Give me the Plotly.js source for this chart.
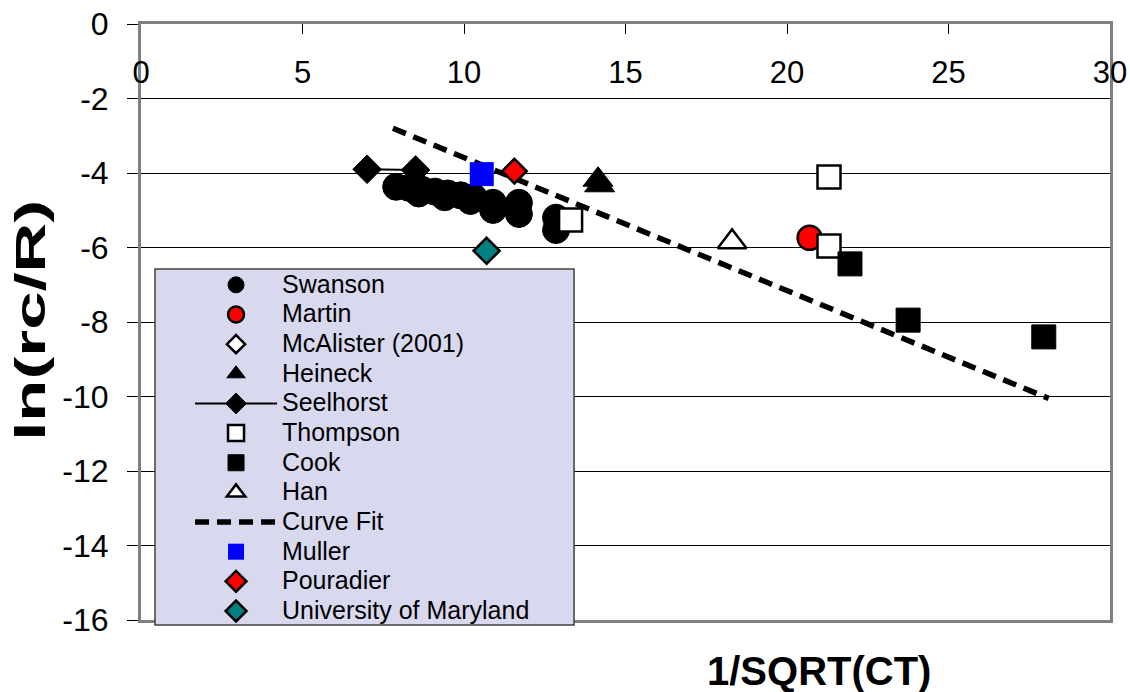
<!DOCTYPE html>
<html>
<head>
<meta charset="utf-8">
<script src="https://cdn.plot.ly/plotly-3.0.1.min.js"></script>
<style>
  html, body { margin: 0; padding: 0; background: #ffffff; }
  #chart { width: 1130px; height: 692px; }
</style>
</head>
<body>
<div id="chart"></div>
<script>
// ln(rc/R) against 1/SQRT(CT) for each data source
const swansonX = [7.9, 8.3, 8.6, 8.7, 9.1, 9.4, 9.5, 9.9, 10.2, 10.3, 10.9, 10.9, 11.7, 11.7, 12.85, 12.85];
const swansonY = [-4.37, -4.4, -4.55, -4.45, -4.5, -4.65, -4.55, -4.6, -4.75, -4.65, -4.8, -4.99, -4.8, -5.1, -5.2, -5.53];

const martinX = [20.7];
const martinY = [-5.74];

// no plotted value, listed in the legend only
const mcalisterX = [null];
const mcalisterY = [null];

const heineckX = [14.15, 14.2];
const heineckY = [-4.18, -4.33];

const seelhorstX = [7.0, 8.5];
const seelhorstY = [-3.9, -3.92];

const thompsonX = [13.3, 21.3, 21.3];
const thompsonY = [-5.26, -4.11, -5.96];

const cookX = [21.95, 23.75, 27.95];
const cookY = [-6.44, -7.95, -8.4];

const hanX = [18.3];
const hanY = [-5.85];

const curveFitX = [7.8, 28.1];
const curveFitY = [-2.8, -10.05];

const mullerX = [10.55];
const mullerY = [-4.03];

const pouradierX = [11.56];
const pouradierY = [-3.95];

const marylandX = [10.7];
const marylandY = [-6.09];

const xTicks = [0, 5, 10, 15, 20, 25, 30];
const yTicks = [0, -2, -4, -6, -8, -10, -12, -14, -16];

const FONT = 'Liberation Sans, Arial, Helvetica, sans-serif';
const label = s => '<span style="font-size:25px">' + s + '</span>';

const traces = [
  { name: label('Swanson'), x: swansonX, y: swansonY, mode: 'markers', legendrank: 1,
    marker: { symbol: 'circle', size: 27, color: '#000000', line: { color: '#000000', width: 1 } } },
  { name: label('McAlister (2001)'), x: mcalisterX, y: mcalisterY, mode: 'markers', legendrank: 3,
    marker: { symbol: 'diamond', size: 14, color: '#ffffff', line: { color: '#000000', width: 2.5 } } },
  { name: label('Seelhorst'), x: seelhorstX, y: seelhorstY, mode: 'lines+markers', legendrank: 5,
    line: { color: '#000000', width: 2 },
    marker: { symbol: 'diamond', size: 22, color: '#000000', line: { color: '#000000', width: 1 } } },
  { name: label('Curve Fit'), x: curveFitX, y: curveFitY, mode: 'lines', legendrank: 9,
    line: { color: '#000000', width: 5.5, dash: '14px,8px' } },
  { name: label('Martin'), x: martinX, y: martinY, mode: 'markers', legendrank: 2,
    marker: { symbol: 'circle', size: 24, color: '#ff0000', line: { color: '#000000', width: 2.5 } } },
  { name: label('Heineck'), x: heineckX, y: heineckY, mode: 'markers', legendrank: 4,
    marker: { symbol: 'triangle-up', size: 26, color: '#000000', line: { color: '#000000', width: 1 } } },
  { name: label('Thompson'), x: thompsonX, y: thompsonY, mode: 'markers', legendrank: 6,
    marker: { symbol: 'square', size: 23, color: '#ffffff', line: { color: '#000000', width: 2.5 } } },
  { name: label('Cook'), x: cookX, y: cookY, mode: 'markers', legendrank: 7,
    marker: { symbol: 'square', size: 24, color: '#000000', line: { color: '#000000', width: 1 } } },
  { name: label('Han'), x: hanX, y: hanY, mode: 'markers', legendrank: 8,
    marker: { symbol: 'triangle-up', size: 25, color: '#ffffff', line: { color: '#000000', width: 2.5 } } },
  { name: label('Muller'), x: mullerX, y: mullerY, mode: 'markers', legendrank: 10,
    marker: { symbol: 'square', size: 24, color: '#0000ff', line: { color: '#0000ff', width: 0 } } },
  { name: label('Pouradier'), x: pouradierX, y: pouradierY, mode: 'markers', legendrank: 11,
    marker: { symbol: 'diamond', size: 19, color: '#ff0000', line: { color: '#000000', width: 2.5 } } },
  { name: label('University of Maryland'), x: marylandX, y: marylandY, mode: 'markers', legendrank: 12,
    marker: { symbol: 'diamond', size: 20, color: '#008080', line: { color: '#000000', width: 2.5 } } }
];

const Y_TITLE_CENTER = 0.503;   // paper fraction
const Y_TITLE_STRETCH = 1.64;   // tall, narrow lettering of the axis title

const layout = {
  width: 1130,
  height: 692,
  margin: { l: 141, r: 20, t: 24, b: 72, pad: 0 },
  paper_bgcolor: '#ffffff',
  plot_bgcolor: '#ffffff',
  font: { family: FONT, color: '#000000' },
  showlegend: true,
  legend: {
    x: 0.0506, xanchor: 'left',
    y: 0.5956, yanchor: 'top',
    bgcolor: 'rgba(0,0,0,0)',
    borderwidth: 0,
    itemwidth: 82,
    font: { family: FONT, size: 20.5, color: '#000000' },
    traceorder: 'normal'
  },
  xaxis: {
    range: [0, 30],
    side: 'top',
    tickvals: xTicks,
    ticktext: xTicks.map(String),
    ticks: 'inside',
    ticklen: 10,
    tickwidth: 1,
    tickcolor: '#000000',
    ticklabelposition: 'inside',
    ticklabeloverflow: 'allow',
    ticklabelstandoff: 31,
    tickfont: { family: FONT, size: 31, color: '#000000' },
    showgrid: false,
    zeroline: false,
    showline: true,
    linecolor: '#808080',
    linewidth: 3,
    mirror: true,
    fixedrange: true
  },
  yaxis: {
    range: [-16, 0],
    tickvals: yTicks,
    ticktext: yTicks.map(String),
    ticks: 'outside',
    ticklen: 11,
    tickwidth: 1,
    tickcolor: '#000000',
    ticklabelstandoff: 12,
    tickfont: { family: FONT, size: 32, color: '#000000' },
    showgrid: true,
    gridcolor: '#000000',
    gridwidth: 1,
    zeroline: false,
    showline: true,
    linecolor: '#808080',
    linewidth: 3,
    mirror: true,
    fixedrange: true
  },
  shapes: [
    { type: 'rect', xref: 'paper', yref: 'paper', layer: 'above',
      x0: 0.01445, x1: 0.4469, y0: -0.0084, y1: 0.589,
      fillcolor: '#d8d8ee', line: { color: '#404040', width: 1.5 } }
  ],
  annotations: [
    { text: '<b>1/SQRT(CT)</b>', xref: 'paper', yref: 'paper', x: 0.6997, y: -0.0856,
      xanchor: 'center', yanchor: 'middle', showarrow: false,
      font: { family: FONT, size: 40, color: '#000000' } },
    { text: '<b>ln(rc/R)</b>', xref: 'paper', yref: 'paper', x: -0.114, y: Y_TITLE_CENTER,
      xanchor: 'center', yanchor: 'middle', showarrow: false, textangle: -90,
      font: { family: FONT, size: 42, color: '#000000' } }
  ]
};

Plotly.newPlot('chart', traces, layout, { displayModeBar: false, staticPlot: true }).then(gd => {
  // stretch the vertical axis title along its reading direction
  const ann = gd.querySelectorAll('.infolayer g.annotation')[1];
  if (ann) {
    const cy = layout.margin.t + (1 - Y_TITLE_CENTER) * (layout.height - layout.margin.t - layout.margin.b);
    ann.setAttribute('transform',
      'translate(0,' + cy + ') scale(1,' + Y_TITLE_STRETCH + ') translate(0,' + (-cy) + ')');
  }
});
</script>
</body>
</html>
